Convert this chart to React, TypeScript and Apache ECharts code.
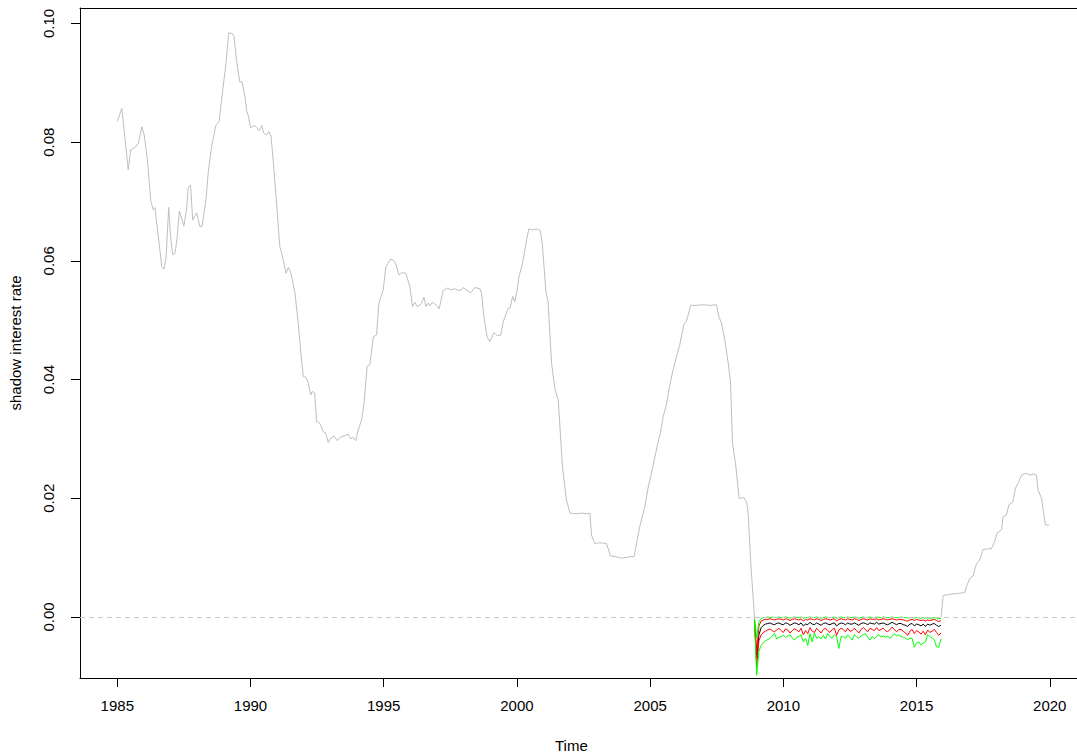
import React, { useEffect, useRef } from "react";
import * as echarts from "echarts";

// Observed shadow rate (grey), [year, value]
const observedA: [number, number][] = [
  [1985.0,0.0835],[1985.17,0.0857],[1985.41,0.0753],[1985.5,0.0787],[1985.66,0.0791],[1985.79,0.0798],[1985.92,0.0826],[1986.01,0.0812],[1986.13,0.077],[1986.26,0.070],[1986.35,0.0686],[1986.41,0.069],[1986.54,0.0641],[1986.67,0.059],[1986.75,0.0586],[1986.83,0.0605],[1986.93,0.069],[1987.0,0.0641],[1987.08,0.061],[1987.17,0.0613],[1987.25,0.0641],[1987.33,0.0684],[1987.5,0.0659],[1987.6,0.0686],[1987.66,0.0723],[1987.75,0.0728],[1987.83,0.0669],[1987.98,0.0681],[1988.1,0.0658],[1988.18,0.0658],[1988.33,0.0703],[1988.41,0.0748],[1988.54,0.0793],[1988.7,0.0828],[1988.82,0.0835],[1988.95,0.0885],[1989.08,0.0933],[1989.18,0.0984],[1989.32,0.0983],[1989.38,0.0978],[1989.48,0.0936],[1989.6,0.0901],[1989.68,0.0902],[1989.79,0.0877],[1989.86,0.0852],[1989.92,0.0844],[1990.0,0.0824],[1990.13,0.0828],[1990.23,0.0825],[1990.33,0.0819],[1990.42,0.0828],[1990.5,0.0815],[1990.6,0.0812],[1990.69,0.0818],[1990.77,0.081],[1990.85,0.077],[1990.95,0.0714],[1991.1,0.0624],[1991.23,0.0602],[1991.33,0.0579],[1991.42,0.0589],[1991.52,0.0579],[1991.67,0.0546],[1991.79,0.0495],[1991.88,0.045],[1991.98,0.0405],[1992.08,0.0404],[1992.17,0.0394],[1992.26,0.0374],[1992.32,0.038],[1992.41,0.0377],[1992.48,0.0329],[1992.54,0.0329],[1992.63,0.0324],[1992.73,0.0312],[1992.82,0.031],[1992.92,0.0294],[1993.01,0.0301],[1993.13,0.0305],[1993.26,0.0297],[1993.38,0.0303],[1993.51,0.0305],[1993.67,0.0308],[1993.76,0.030],[1993.83,0.0303],[1993.95,0.0297],[1994.04,0.0315],[1994.17,0.0332],[1994.26,0.036],[1994.38,0.0422],[1994.48,0.0425],[1994.61,0.0472],[1994.73,0.0475],[1994.82,0.0529],[1994.98,0.0551],[1995.08,0.059],[1995.26,0.0603],[1995.42,0.0599],[1995.58,0.0576],[1995.67,0.058],[1995.83,0.0579],[1995.98,0.0557],[1996.08,0.0523],[1996.17,0.053],[1996.26,0.0523],[1996.42,0.0528],[1996.51,0.0539],[1996.58,0.0523],[1996.67,0.0529],[1996.73,0.0524],[1996.83,0.053],[1996.96,0.0526],[1997.08,0.0519],[1997.23,0.055],[1997.4,0.0554],[1997.51,0.0551],[1997.67,0.0553],[1997.8,0.055],[1997.92,0.0551],[1997.98,0.0555],[1998.26,0.0546],[1998.42,0.0555],[1998.61,0.0553],[1998.67,0.0546],[1998.76,0.0506],[1998.88,0.0472],[1998.98,0.0464],[1999.14,0.0479],[1999.26,0.0474],[1999.39,0.0475],[1999.49,0.0498],[1999.67,0.052],[1999.74,0.052],[1999.84,0.054],[1999.92,0.0531],[2000.01,0.0551],[2000.08,0.0574],[2000.21,0.0596],[2000.36,0.0635],[2000.45,0.0654],[2000.6,0.0652],[2000.75,0.0654],[2000.88,0.0651],[2000.95,0.063],[2001.09,0.0548],[2001.17,0.0531],[2001.3,0.0428],[2001.42,0.0385],[2001.55,0.0366],[2001.71,0.0253],[2001.86,0.0197],[2001.99,0.0175],[2002.24,0.0174],[2002.42,0.0175],[2002.61,0.0174],[2002.74,0.0175],[2002.8,0.0138],[2002.92,0.0124],[2003.11,0.0125],[2003.36,0.0124],[2003.42,0.0116],[2003.51,0.0103],[2003.68,0.0102],[2003.93,0.0099],[2004.17,0.0101],[2004.4,0.0102],[2004.49,0.0124],[2004.61,0.0152],[2004.8,0.0186],[2004.92,0.0217],[2005.02,0.0236],[2005.18,0.027],[2005.33,0.0301],[2005.39,0.031],[2005.49,0.0338],[2005.59,0.0354],[2005.74,0.0391],[2005.86,0.0416],[2006.01,0.0442],[2006.11,0.0458],[2006.26,0.0492],[2006.37,0.0499],[2006.43,0.0509],[2006.52,0.0525],[2006.74,0.0525],[2006.99,0.0526],[2007.24,0.0525],[2007.49,0.0526],[2007.58,0.0506],[2007.68,0.0495],[2007.8,0.0467],[2007.93,0.0428],[2008.02,0.0394],[2008.09,0.0293],[2008.22,0.0253],[2008.34,0.020],[2008.52,0.0201],[2008.62,0.0194],[2008.68,0.0175],[2008.77,0.0096],[2008.92,-0.0003]
];
const observedB: [number, number][] = [
  [2015.92,0.0000],[2016.0,0.0036],[2016.12,0.0037],[2016.37,0.0039],[2016.62,0.004],[2016.81,0.0041],[2016.87,0.0051],[2017.0,0.0065],[2017.12,0.0069],[2017.25,0.009],[2017.37,0.0096],[2017.5,0.0114],[2017.81,0.0115],[2017.93,0.0127],[2018.02,0.0141],[2018.19,0.0147],[2018.25,0.0169],[2018.37,0.0172],[2018.47,0.0189],[2018.62,0.0194],[2018.71,0.0217],[2018.81,0.0225],[2018.94,0.0239],[2019.1,0.0242],[2019.25,0.0239],[2019.37,0.0241],[2019.5,0.0239],[2019.56,0.0214],[2019.69,0.02],[2019.77,0.0175],[2019.84,0.0155],[2019.97,0.0155]
];

// Monthly estimates Dec 2008 .. Dec 2015
const bandStart = 2008 + 11 / 12;
const upperGreen = [-0.0003,-0.0035,-0.0008,-0.0003,-0.0001,-0.0001,0.0000,-0.0001,0.0000,-0.0001,
-0.0001,0.0000,-0.0001,-0.0001,0.0000,-0.0001,-0.0002,-0.0001,0.0000,-0.0001,
-0.0001,0.0000,-0.0002,-0.0001,-0.0001,0.0000,-0.0001,-0.0001,0.0000,-0.0001,
-0.0002,-0.0001,0.0000,-0.0001,-0.0001,-0.0001,0.0000,-0.0002,-0.0001,0.0000,
-0.0001,-0.0001,0.0000,-0.0001,-0.0001,0.0000,-0.0001,-0.0002,-0.0001,0.0000,
-0.0001,-0.0001,0.0000,-0.0001,-0.0001,0.0000,-0.0001,-0.0001,0.0000,-0.0001,
-0.0001,-0.0001,0.0000,-0.0001,-0.0001,-0.0001,0.0000,-0.0001,-0.0001,-0.0002,
-0.0001,-0.0001,-0.0002,-0.0001,-0.0001,-0.0002,-0.0001,-0.0002,-0.0001,-0.0002,
-0.0002,-0.0001,-0.0002,-0.0003,-0.0002];
const upperRed = [-0.0005,-0.0058,-0.0015,-0.0007,-0.0005,-0.0004,-0.0004,-0.0003,-0.0004,-0.0005,
-0.0004,-0.0003,-0.0004,-0.0005,-0.0003,-0.0004,-0.0006,-0.0004,-0.0003,-0.0004,
-0.0005,-0.0003,-0.0007,-0.0004,-0.0005,-0.0003,-0.0004,-0.0005,-0.0003,-0.0004,
-0.0006,-0.0004,-0.0003,-0.0004,-0.0005,-0.0004,-0.0003,-0.0007,-0.0004,-0.0003,
-0.0004,-0.0005,-0.0003,-0.0004,-0.0005,-0.0003,-0.0004,-0.0006,-0.0004,-0.0003,
-0.0004,-0.0005,-0.0003,-0.0004,-0.0004,-0.0003,-0.0005,-0.0004,-0.0003,-0.0004,
-0.0005,-0.0004,-0.0003,-0.0004,-0.0005,-0.0004,-0.0004,-0.0005,-0.0006,-0.0007,
-0.0005,-0.0004,-0.0006,-0.0004,-0.0005,-0.0006,-0.0005,-0.0007,-0.0005,-0.0006,
-0.0005,-0.0004,-0.0006,-0.0008,-0.0006];
const median = [-0.0006,-0.0070,-0.0030,-0.0018,-0.0014,-0.0012,-0.0011,-0.0010,-0.0012,-0.0013,
-0.0011,-0.0010,-0.0012,-0.0013,-0.0010,-0.0011,-0.0014,-0.0012,-0.0010,-0.0011,
-0.0013,-0.0010,-0.0015,-0.0012,-0.0013,-0.0009,-0.0012,-0.0013,-0.0010,-0.0012,
-0.0014,-0.0011,-0.0010,-0.0012,-0.0013,-0.0011,-0.0010,-0.0015,-0.0012,-0.0010,
-0.0011,-0.0013,-0.0010,-0.0012,-0.0012,-0.0010,-0.0012,-0.0014,-0.0011,-0.0010,
-0.0011,-0.0013,-0.0010,-0.0011,-0.0012,-0.0009,-0.0012,-0.0011,-0.0010,-0.0012,
-0.0013,-0.0011,-0.0009,-0.0011,-0.0013,-0.0011,-0.0011,-0.0013,-0.0014,-0.0016,
-0.0012,-0.0011,-0.0015,-0.0012,-0.0013,-0.0015,-0.0012,-0.0016,-0.0012,-0.0014,
-0.0012,-0.0011,-0.0014,-0.0016,-0.0014];
const lowerRed = [-0.0007,-0.0083,-0.0040,-0.0030,-0.0026,-0.0024,-0.0022,-0.0020,-0.0023,-0.0025,
-0.0022,-0.0019,-0.0023,-0.0026,-0.0020,-0.0022,-0.0027,-0.0023,-0.0020,-0.0022,
-0.0025,-0.0019,-0.0030,-0.0023,-0.0028,-0.0018,-0.0024,-0.0026,-0.0019,-0.0023,
-0.0027,-0.0021,-0.0019,-0.0023,-0.0026,-0.0021,-0.0019,-0.0031,-0.0022,-0.0019,
-0.0021,-0.0025,-0.0019,-0.0024,-0.0023,-0.0019,-0.0023,-0.0027,-0.0021,-0.0018,
-0.0021,-0.0025,-0.0019,-0.0021,-0.0023,-0.0018,-0.0023,-0.0021,-0.0019,-0.0023,
-0.0025,-0.0021,-0.0017,-0.0021,-0.0025,-0.0021,-0.0021,-0.0024,-0.0027,-0.0031,
-0.0024,-0.0021,-0.0028,-0.0023,-0.0025,-0.0029,-0.0024,-0.0030,-0.0022,-0.0026,
-0.0024,-0.0021,-0.0026,-0.0031,-0.0027];
const lowerGreen = [-0.0008,-0.0098,-0.0058,-0.0048,-0.0043,-0.0040,-0.0038,-0.0036,-0.0032,-0.0028,
-0.0037,-0.0034,-0.0033,-0.0031,-0.0034,-0.0032,-0.0030,-0.0035,-0.0039,-0.0034,
-0.0033,-0.0030,-0.0042,-0.0036,-0.0048,-0.0028,-0.0042,-0.0027,-0.0036,-0.0033,
-0.0037,-0.0031,-0.0037,-0.0028,-0.0033,-0.0036,-0.0030,-0.0033,-0.0053,-0.0033,
-0.0033,-0.0036,-0.0030,-0.0034,-0.0039,-0.0030,-0.0033,-0.0036,-0.0032,-0.0030,
-0.0028,-0.0034,-0.0039,-0.0033,-0.0036,-0.0033,-0.0030,-0.0034,-0.0032,-0.0034,
-0.0032,-0.0036,-0.0033,-0.0028,-0.0032,-0.0030,-0.0033,-0.0034,-0.0036,-0.0038,
-0.0036,-0.0036,-0.0051,-0.0044,-0.0042,-0.0047,-0.0044,-0.0042,-0.0030,-0.0033,
-0.0035,-0.0039,-0.0050,-0.0051,-0.0037];

const xTicks = [1985, 1990, 1995, 2000, 2005, 2010, 2015, 2020];
const yTicks = [0, 0.02, 0.04, 0.06, 0.08, 0.1];

const FONT = "'Liberation Sans', Arial, Helvetica, sans-serif";

export default function App() {
  const ref = useRef<HTMLDivElement>(null);
  useEffect(() => {
    document.body.style.margin = "0";
    document.body.style.overflow = "hidden";
    if (!ref.current) return;
    const chart = echarts.init(ref.current, undefined, { renderer: "svg" });
    const monthly = (vals: number[]) => vals.map((v, i) => [bandStart + i / 12, v]);
    const band = (name: string, vals: number[], color: string) => ({
      name,
      type: "line",
      data: monthly(vals),
      showSymbol: false,
      symbol: "none",
      lineStyle: { color, width: 1 },
      z: 3,
    });
    chart.setOption({
      animation: false,
      backgroundColor: "#ffffff",
      textStyle: { fontFamily: FONT },
      grid: {
        left: 80, top: 8, width: 998, height: 670,
        outerBoundsMode: "none",
        containLabel: false,
        show: false,
      },
      xAxis: [
        {
          type: "value", min: 1983.6, max: 2021.06,
          position: "bottom",
          axisLine: { show: true, onZero: false, lineStyle: { color: "#000", width: 1 } },
          splitLine: { show: false },
          axisTick: { show: true, length: 9, inside: false, lineStyle: { color: "#000" }, customValues: xTicks },
          axisLabel: { color: "#000", fontSize: 15, fontFamily: FONT, margin: 20, customValues: xTicks, formatter: (v: number) => String(v) },
        },
        {
          type: "value", min: 1983.6, max: 2021.06,
          position: "top",
          axisLine: { show: true, onZero: false, lineStyle: { color: "#000", width: 1 } },
          splitLine: { show: false },
          axisTick: { show: false },
          axisLabel: { show: false },
        },
      ],
      yAxis: {
        type: "value", min: -0.01028, max: 0.1026,
        position: "left",
        axisLine: { show: true, onZero: false, lineStyle: { color: "#000", width: 1 } },
        splitLine: { show: false },
        axisTick: { show: true, length: 9, lineStyle: { color: "#000" }, customValues: yTicks },
        axisLabel: { color: "#000", fontSize: 15, fontFamily: FONT, rotate: 90, margin: 24, customValues: yTicks, formatter: (v: number) => v.toFixed(2) },
      },
      graphic: [
        { type: "text", left: 571 - 16, top: 738, style: { text: "Time", font: `15px ${FONT}`, fill: "#000" } },
        { type: "text", x: 8, y: 343, rotation: Math.PI / 2, style: { text: "shadow interest rate", font: `15px ${FONT}`, fill: "#000", align: "center", verticalAlign: "top" } },
      ],
      series: [
        {
          name: "observed", type: "line", data: observedA, showSymbol: false, symbol: "none",
          lineStyle: { color: "#bebebe", width: 1 }, z: 2,
          markLine: {
            silent: true, symbol: "none", label: { show: false },
            lineStyle: { color: "#c8c8c8", type: [5, 4], width: 1 },
            data: [{ yAxis: 0 }],
          },
        },
        { name: "observed2", type: "line", data: observedB, showSymbol: false, symbol: "none", lineStyle: { color: "#bebebe", width: 1 }, z: 2 },
        band("median", median, "#000000"),
        band("upperRed", upperRed, "#ff0000"),
        band("lowerRed", lowerRed, "#ff0000"),
        band("upperGreen", upperGreen, "#00ff00"),
        band("lowerGreen", lowerGreen, "#00ff00"),
      ],
    });
    return () => chart.dispose();
  }, []);
  return <div ref={ref} style={{ width: 1077, height: 755 }} />;
}
